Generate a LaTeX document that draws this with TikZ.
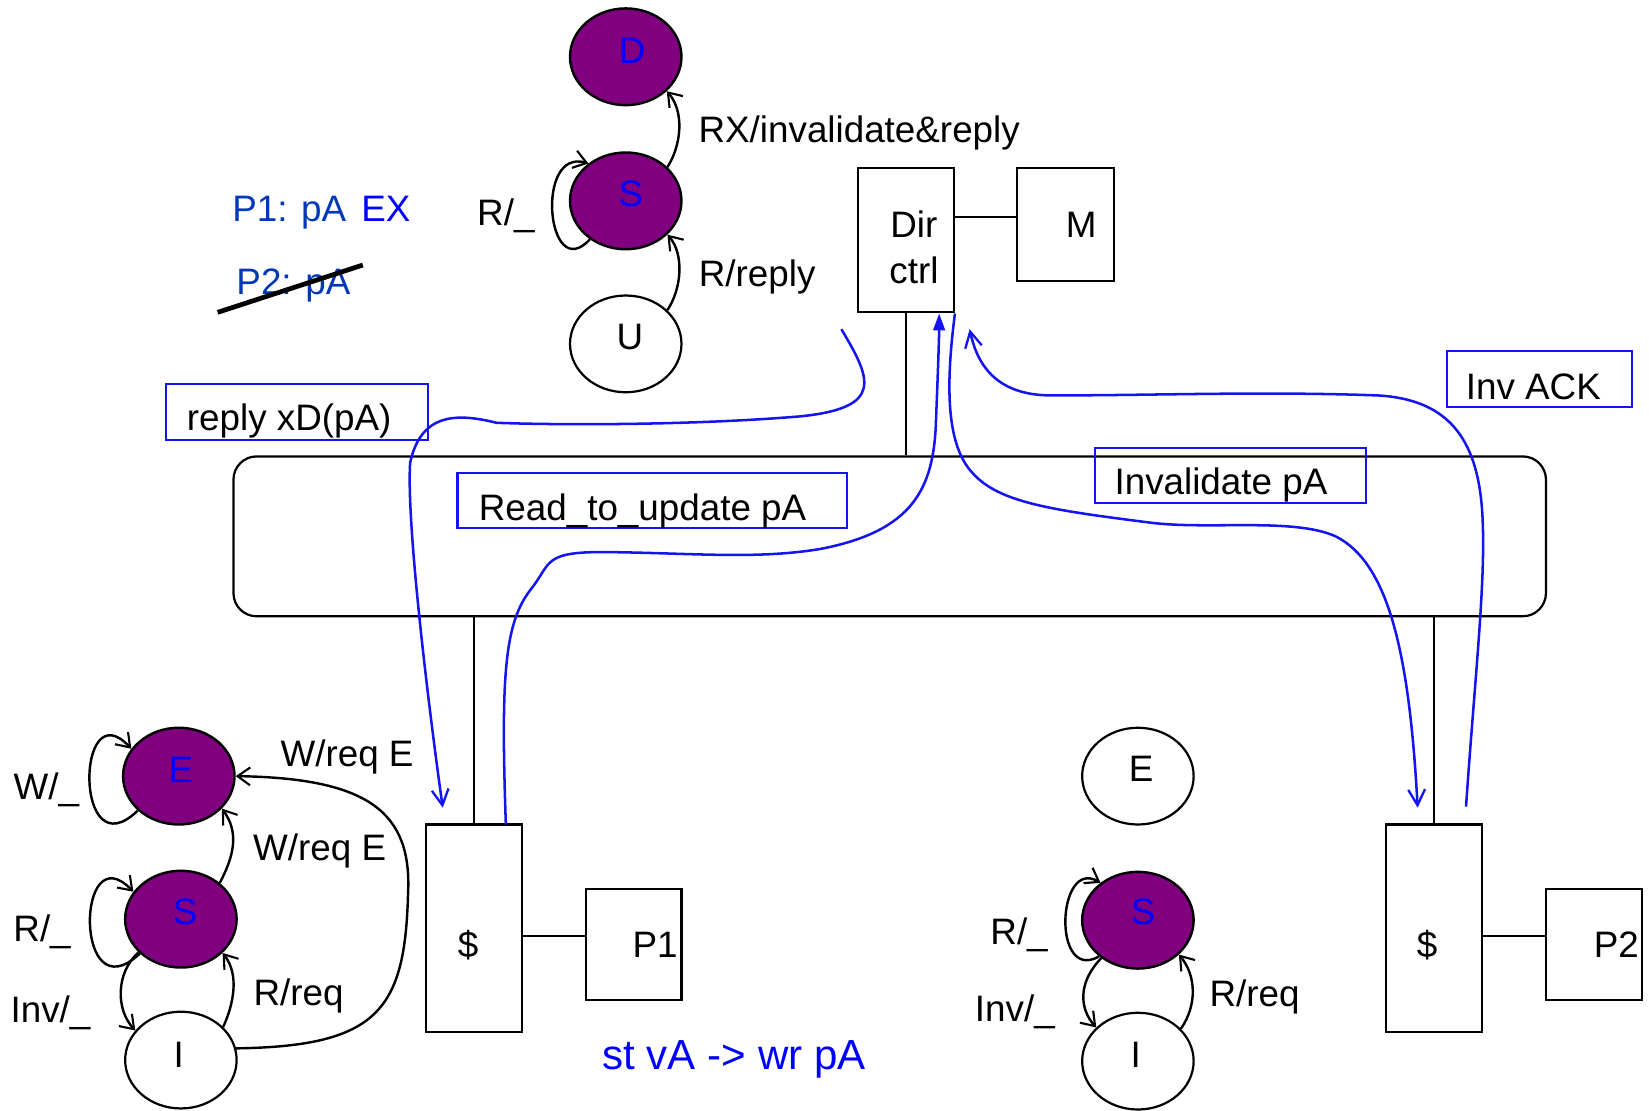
\documentclass[tikz,border=0pt]{standalone}
\usepackage{fontspec}
\setmainfont{Liberation Sans}
\usetikzlibrary{shapes.geometric,arrows.meta}
\definecolor{purp}{RGB}{128,0,128}
\definecolor{lblue}{RGB}{0,0,255}
\definecolor{pblue}{RGB}{0,56,184}
\definecolor{mblue}{RGB}{20,20,240}
\newcommand\bigfs{\fontsize{35}{42}\selectfont}
\newcommand\hugefs{\fontsize{40}{48}\selectfont}
\begin{document}
\begin{tikzpicture}[x=1pt,y=-1pt,
  txt/.style={font=\bigfs, inner sep=0pt, text height=25pt, text depth=0pt},
  bigtxt/.style={font=\hugefs, inner sep=0pt, text height=28.7pt, text depth=0pt},
  pst/.style={ellipse, draw=black, line width=2.3pt, fill=purp, minimum width=106pt, minimum height=92pt, inner sep=0pt},
  wst/.style={ellipse, draw=black, line width=2.1pt, fill=white, minimum width=106pt, minimum height=92pt, inner sep=0pt},
  box/.style={draw=black, line width=2.1pt, inner sep=0pt},
  msgbox/.style={draw=mblue, line width=2pt, inner sep=0pt},
  wire/.style={draw=black, line width=2.1pt},
  arr/.style={draw=black, line width=2.3pt, -{Straight Barb[length=12pt,width=17pt,line width=2pt]}},
  msg/.style={draw=mblue, line width=2.4pt, -{Straight Barb[length=15pt,width=16pt,line width=2.2pt]}},
  msgfill/.style={draw=mblue, line width=2.4pt, -{Triangle[length=16pt,width=11pt]}, fill=none},
]
\useasboundingbox (0,0) rectangle (1568,1056);

% ---------- directory state machine ----------
\node[pst] (d) at (595,54) {};
\node[pst] (s) at (595,191) {};
\node[wst] (u) at (595,327) {};
\node[txt, text=lblue] at (601,48) {D};
\node[txt, text=lblue] at (600,184) {S};
\node[txt] at (599,320) {U};

\draw[arr] (u.39) .. controls (648,275) and (651,242) .. (s.-39);
\draw[arr] (s.39) .. controls (648,138) and (651,106) .. (d.-40);
\draw[arr] (s.227) .. controls (520,272) and (508,140) .. (s.135);

\node[txt] at (817,123) {RX/invalidate\&reply};
\node[txt] at (720,260) {R/reply};
\node[txt] at (481,202) {R/\_};

\node[txt, text=pblue] at (275,198) {P1: pA};
\node[txt, text=lblue] at (367,198) {EX};
\node[txt, text=pblue] at (279,268) {P2: pA};
\coordinate (strA) at (207,297);
\coordinate (strB) at (345,252);
\draw[black, line width=4.5pt] (strA) -- (strB);

% ---------- directory controller & memory ----------
\node[box, minimum width=91pt, minimum height=137pt] (dir) at (861.5,228.5) {};
\node[txt] at (869,213) {Dir};
\node[txt] at (869,257) {ctrl};
\node[box, minimum width=92pt, minimum height=107pt] (mem) at (1013,213.5) {};
\node[txt] at (1028,213) {M};
\coordinate (ldm) at (0,206);
\draw[wire] (dir.east |- ldm) -- (mem.west |- ldm);

% ---------- bus ----------
\node[draw=black, line width=2.1pt, rounded corners=22pt, minimum width=1248pt, minimum height=152pt, inner sep=0pt] (bus) at (846,510) {};
\draw[wire] (dir.south) -- (dir.south |- bus.north);

% ---------- caches and processors ----------
\node[box, minimum width=91pt, minimum height=197pt] (c1) at (450.5,882.5) {};
\node[txt] at (445,898) {\$};
\node[box, minimum width=91pt, minimum height=106pt] (p1) at (602.5,898) {};
\node[txt] at (623,898) {P1};
\node[box, minimum width=91pt, minimum height=197pt] (c2) at (1363.5,882.5) {};
\node[txt] at (1357,898) {\$};
\node[box, minimum width=91pt, minimum height=106pt] (p2) at (1515.5,898) {};
\node[txt] at (1537,898) {P2};
\coordinate (lcp) at (0,890);
\draw[wire] (c1.east |- lcp) -- (p1.west |- lcp);
\draw[wire] (c2.east |- lcp) -- (p2.west |- lcp);
\draw[wire] (c1.north) -- (c1.north |- bus.south);
\draw[wire] (c2.north) -- (c2.north |- bus.south);

% ---------- message boxes ----------
\node[msgbox, minimum width=249pt, minimum height=53pt] (mreply) at (282.5,391.5) {};
\node[txt] at (275,397) {reply xD(pA)};
\node[msgbox, minimum width=370pt, minimum height=52pt] (mread) at (620,476) {};
\node[txt] at (611,482) {Read\_to\_update pA};
\node[msgbox, minimum width=258pt, minimum height=52pt] (minv) at (1170,452) {};
\node[txt] at (1161,458) {Invalidate pA};
\node[msgbox, minimum width=176pt, minimum height=53pt] (mack) at (1464,360.5) {};
\node[txt] at (1458,367) {Inv ACK};

% ---------- message curves ----------
\coordinate (replyStart) at (800,313);
\coordinate (replyEnd) at (421,768);
\draw[msg] (replyStart) .. controls (828,360) and (842,388) .. (760,396)
  .. controls (650,405) and (520,404) .. (472,402)
  .. controls (432,392) and (400,394) .. (390,440)
  .. controls (386,500) and (410,690) .. (replyEnd);

\coordinate (readStart) at (481,784);
\draw[msgfill] (readStart) .. controls (476,640) and (480,592) .. (505,560)
  .. controls (525,535) and (515,524) .. (580,525)
  .. controls (660,526) and (720,532) .. (780,522)
  .. controls (868,505) and (888,465) .. (890,400)
  .. controls (892,350) and (893,320) .. ([xshift=31.5pt]dir.south);

\coordinate (invEnd) at (1348,768);
\draw[msg] (dir.south east) .. controls (900,360) and (898,422) .. (925,450)
  .. controls (950,478) and (1000,485) .. (1094,497)
  .. controls (1150,504) and (1230,492) .. (1270,510)
  .. controls (1320,535) and (1340,620) .. (invEnd);

\coordinate (ackStart) at (1394,767);
\coordinate (ackEnd) at (922,313);
\draw[msg] (ackStart) .. controls (1402,650) and (1412,560) .. (1410,500)
  .. controls (1408,420) and (1380,380) .. (1310,376)
  .. controls (1200,372) and (1100,376) .. (1000,376)
  .. controls (950,376) and (930,350) .. (ackEnd);

% ---------- P1 state machine ----------
\node[pst] (e1) at (170,738) {};
\node[pst] (s1) at (172,874) {};
\node[wst] (i1) at (172,1008) {};
\node[txt, text=lblue] at (172,732) {E};
\node[txt, text=lblue] at (176,867) {S};
\node[txt] at (170,1003) {I};

\draw[arr] (e1.220) .. controls (70,830) and (72,655) .. (e1.150);
\draw[arr] (s1.220) .. controls (70,966) and (72,791) .. (s1.150);
\draw[arr] (s1.43) .. controls (222,815) and (228,792) .. (e1.-37);
\draw[arr] (i1.38) .. controls (222,955) and (228,927) .. (s1.-39);
\draw[arr] (s1.218) .. controls (110,925) and (110,960) .. (i1.147);
\draw[arr] (i1.12) .. controls (360,995) and (385,960) .. (388,850)
  .. controls (392,772) and (350,740) .. (e1.east);

\node[txt] at (44,748) {W/\_};
\node[txt] at (40,883) {R/\_};
\node[txt] at (48,960) {Inv/\_};
\node[txt] at (330,716) {W/req E};
\node[txt] at (304,806) {W/req E};
\node[txt] at (284,944) {R/req};

\node[bigtxt, text=lblue] at (698,1003) {st vA -> wr pA};

% ---------- P2 state machine ----------
\node[wst] (e2) at (1082,738) {};
\node[pst] (s2) at (1082,875) {};
\node[wst] (i2) at (1082,1009) {};
\node[txt] at (1085,731) {E};
\node[txt, text=lblue] at (1087,867) {S};
\node[txt] at (1080,1003) {I};

\draw[arr] (s2.223) .. controls (1000,935) and (1005,815) .. (s2.135);
\draw[arr] (s2.226) .. controls (1024,935) and (1027,960) .. (i2.141);
\draw[arr] (i2.37) .. controls (1139,955) and (1137,927) .. (s2.-40);

\node[txt] at (969,886) {R/\_};
\node[txt] at (965,959) {Inv/\_};
\node[txt] at (1193,945) {R/req};
\end{tikzpicture}
\end{document}
